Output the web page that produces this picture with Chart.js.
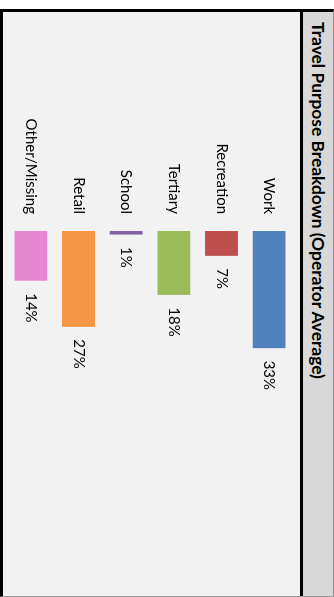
<!DOCTYPE html>
<html>
<head>
<meta charset="utf-8">
<script src="https://cdn.jsdelivr.net/npm/chart.js@4/dist/chart.umd.min.js"></script>
<style>
  html, body { margin: 0; padding: 0; background: #fff; overflow: hidden; }
  /* panel is laid out landscape, then turned a quarter clockwise */
  #panel {
    position: absolute; left: 0; top: 0;
    width: 597px; height: 334px;
    transform-origin: 0 0;
    transform: translate(334px, 0) rotate(90deg);
    background: #fff;
  }
  #frame {
    position: absolute; left: 9px; top: 0;
    width: 588px; height: 334px;
    box-sizing: border-box;
    border-left: 3px solid #000;
    border-bottom: 3px solid #000;
    border-top: 1px solid #8c8c8c;
    border-right: 1px solid #999;
    background: #f2f2f2;
  }
  #title {
    position: absolute; left: 0; top: 0; right: 0;
    height: 30px;
    border-bottom: 3px solid #000;
    background: #d8d8d8;
    font-family: Lato, "Liberation Sans", sans-serif;
    font-weight: bold;
    font-size: 17.4px;
    color: #000;
    line-height: 30px;
    padding-left: 10px;
    white-space: nowrap;
  }
  #plot {
    position: absolute; left: 0; top: 33px;
    width: 584px; height: 297px;
  }
  #chart { display: block; }
</style>
</head>
<body>
<div id="panel">
  <div id="frame">
    <div id="title">Travel Purpose Breakdown (Operator Average)</div>
    <div id="plot"><canvas id="chart" width="584" height="297"></canvas></div>
  </div>
</div>
<script>
const categories = ["Work", "Recreation", "Tertiary", "School", "Retail", "Other/Missing"];
const shares = [33, 7, 18, 1, 27, 14];
const barColors = ["#4f81bd", "#c0504d", "#9bbb59", "#8064a2", "#f79646", "#e687d0"];

// writes "NN%" just past the end of each bar
const valueLabels = {
  id: "valueLabels",
  afterDatasetsDraw(chart) {
    const ctx = chart.ctx;
    const meta = chart.getDatasetMeta(0);
    ctx.save();
    ctx.font = "15px Lato, 'Liberation Sans', sans-serif";
    ctx.fillStyle = "#000";
    ctx.textAlign = "left";
    ctx.textBaseline = "middle";
    meta.data.forEach((bar, i) => {
      ctx.fillText(shares[i] + "%", bar.x + 12.5, bar.y);
    });
    ctx.restore();
  },
};

// fixed size: the rotated parent would confuse responsive sizing
new Chart(document.getElementById("chart"), {
  type: "bar",
  data: {
    labels: categories,
    datasets: [
      {
        data: shares,
        backgroundColor: barColors,
        borderWidth: 0,
        barPercentage: 0.69,
        categoryPercentage: 1,
      },
    ],
  },
  options: {
    indexAxis: "y",
    responsive: false,
    devicePixelRatio: 1,
    animation: { duration: 0 },
    layout: { padding: { left: 0, right: 10, top: 7, bottom: 4 } },
    plugins: {
      legend: { display: false },
      tooltip: { enabled: false },
    },
    scales: {
      x: { display: false, min: 0, max: 100 },
      y: {
        grid: { display: false, drawTicks: false },
        border: { display: false },
        ticks: {
          color: "#000",
          padding: 17,
          font: { family: "Lato, 'Liberation Sans', sans-serif", size: 15 },
        },
        afterFit(scale) {
          scale.width = 219;
          scale.paddingTop = 0;
          scale.paddingBottom = 0;
        },
      },
    },
  },
  plugins: [valueLabels],
});
</script>
</body>
</html>
